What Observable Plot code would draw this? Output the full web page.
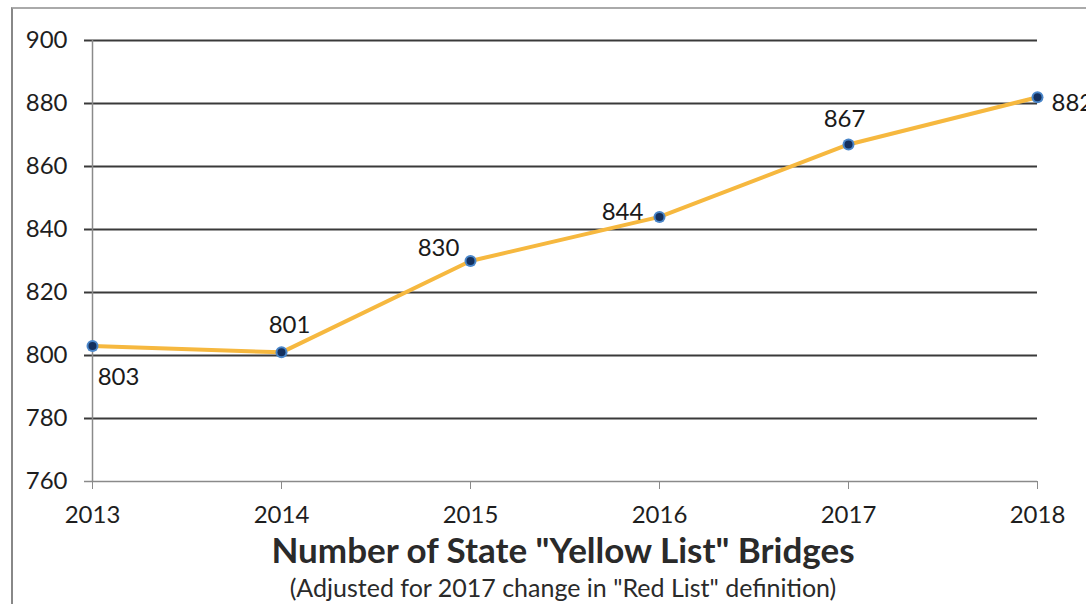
<!DOCTYPE html>
<html>
<head>
<meta charset="utf-8">
<script src="https://cdn.jsdelivr.net/npm/d3@7"></script>
<script src="https://cdn.jsdelivr.net/npm/@observablehq/plot@0.6"></script>
<style>
  body { margin: 0; background: #fff; }
  #wrap { position: relative; width: 1086px; height: 604px; overflow: hidden; font-family: Lato, "Open Sans", sans-serif; }
  #frame { position: absolute; left: 11px; top: 7px; width: 1100px; height: 620px; border-left: 2px solid #888; border-top: 2px solid #aaa; }
  #chart { position: absolute; left: 0; top: 0; }
  #title { position: absolute; left: 40px; width: 1046px; top: 528px; line-height: 42px; text-align: center; font-size: 35px; font-weight: bold; color: #2a2a2a; }
  #subtitle { position: absolute; left: 40px; width: 1046px; top: 572px; line-height: 30px; text-align: center; font-size: 25px; color: #2a2a2a; }
</style>
</head>
<body>
<div id="wrap">
  <div id="frame"></div>
  <div id="chart"></div>
  <div id="title">Number of State "Yellow List" Bridges</div>
  <div id="subtitle">(Adjusted for 2017 change in "Red List" definition)</div>
</div>
<script>
const years = [2013, 2014, 2015, 2016, 2017, 2018];
const bridges = [803, 801, 830, 844, 867, 882];
const yTicks = [760, 780, 800, 820, 840, 860, 880, 900];

const data = years.map((year, i) => ({year, value: bridges[i]}));

// label placement per point (style, not data)
const labelOffset = {
  2013: {dx: 26, dy: 31, anchor: "middle"},
  2014: {dx: 8, dy: -27, anchor: "middle"},
  2015: {dx: -32, dy: -13, anchor: "middle"},
  2016: {dx: -37, dy: -5, anchor: "middle"},
  2017: {dx: -4, dy: -25, anchor: "middle"},
  2018: {dx: 14, dy: 6, anchor: "start"}
};

const groups = {};
for (const d of data) {
  const o = labelOffset[d.year];
  const key = `${o.dx}|${o.dy}|${o.anchor}`;
  (groups[key] ??= {o, rows: []}).rows.push(d);
}
const labelMarks = Object.values(groups).map(({o, rows}) =>
  Plot.text(rows, {x: "year", y: "value", text: d => String(d.value), dx: o.dx, dy: o.dy, textAnchor: o.anchor, fontSize: 24, fill: "#1a1a1a"})
);

const chart = Plot.plot({
  width: 1086,
  height: 530,
  marginLeft: 92,
  marginRight: 49,
  marginTop: 40,
  marginBottom: 49,
  style: {fontFamily: "Lato, 'Open Sans', sans-serif", background: "transparent", color: "#222"},
  x: {domain: [2013, 2018]},
  y: {domain: [760, 900]},
  marks: [
    Plot.ruleY(yTicks.filter(t => t !== 760), {stroke: "#3a3a3a", strokeWidth: 1.8, insetLeft: -8}),
    Plot.ruleY([760], {stroke: "#8a8a8a", strokeWidth: 1.5, insetLeft: -8}),
    Plot.ruleX([2013], {stroke: "#8a8a8a", strokeWidth: 1.5}),
    Plot.axisY({ticks: yTicks, tickSize: 0, tickPadding: 25, fontSize: 24, label: null, stroke: "none", fill: "#1e1e1e"}),
    Plot.axisX({ticks: years, tickFormat: "d", tickSize: 8, tickPadding: 16, fontSize: 24, label: null, stroke: "#8a8a8a", fill: "#1e1e1e"}),
    Plot.line(data, {x: "year", y: "value", stroke: "#f6b83f", strokeWidth: 4}),
    Plot.dot(data, {x: "year", y: "value", r: 6, fill: "#4a86c9", stroke: "none"}),
    Plot.dot(data, {x: "year", y: "value", r: 4, fill: "#14305e", stroke: "none"}),
    ...labelMarks
  ]
});
document.getElementById("chart").appendChild(chart);
</script>
</body>
</html>
